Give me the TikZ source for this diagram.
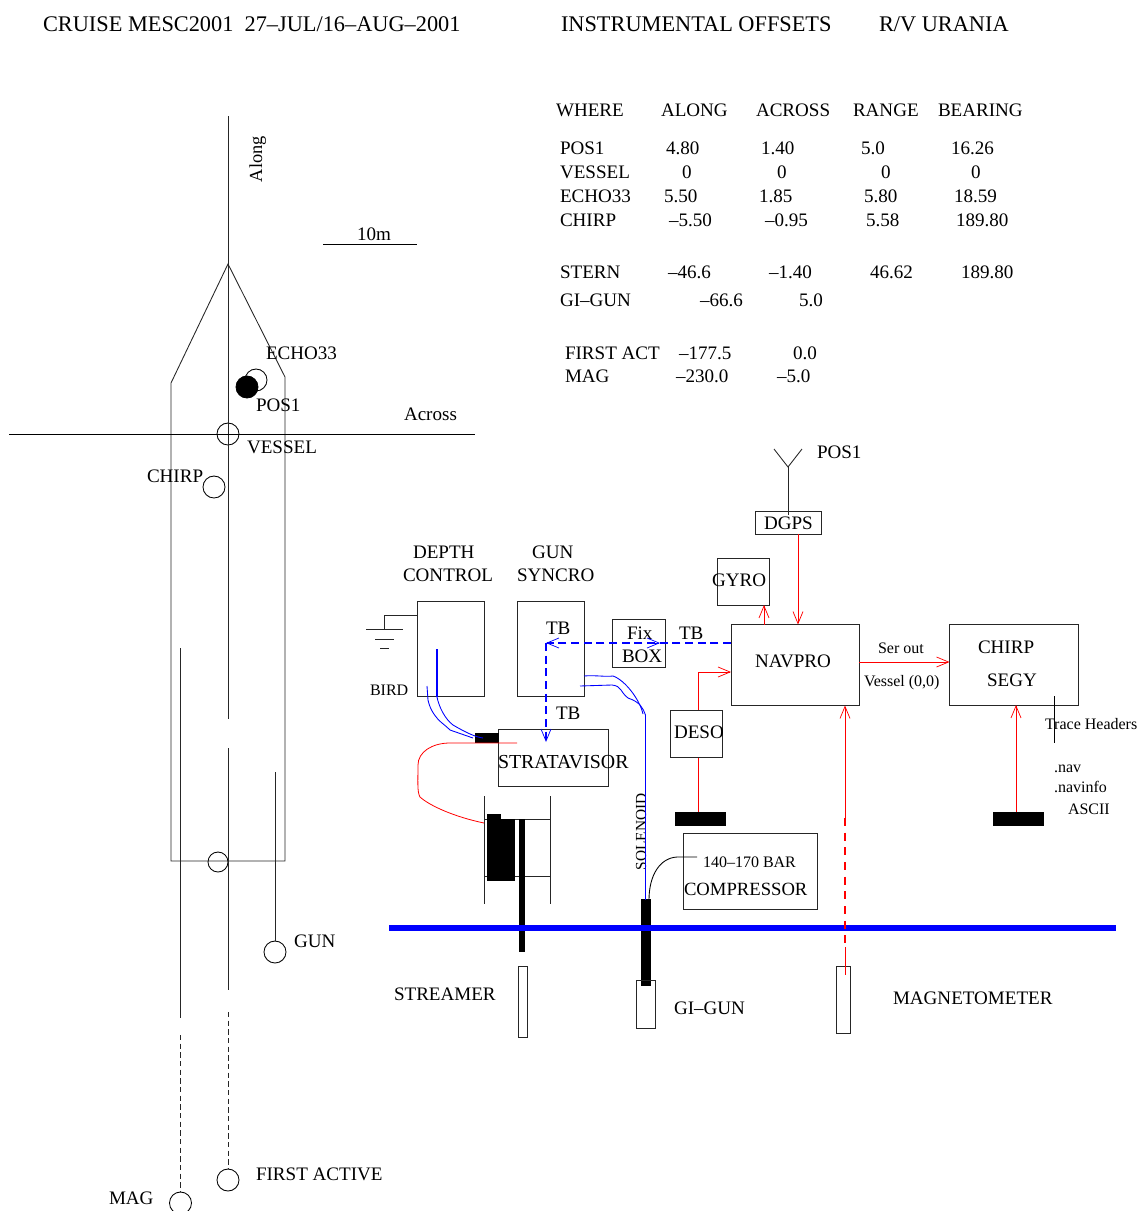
\documentclass[tikz,border=0pt]{standalone}
\usepackage{fontspec}
\setmainfont{Liberation Serif}
\usetikzlibrary{arrows.meta,calc}
\tikzset{
  txt/.style={anchor=base west,inner sep=0pt,outer sep=0pt,font=\fontsize{14.3}{17}\selectfont},
  ttl/.style={txt,font=\fontsize{16.75}{20}\selectfont},
  small/.style={anchor=base west,inner sep=0pt,outer sep=0pt,font=\fontsize{12}{14}\selectfont},
  line/.style={draw=black!85,line width=0.65pt},
  redl/.style={draw=red,line width=0.65pt},
  bluel/.style={draw=blue,line width=0.65pt},
  barb/.style={-{Straight Barb[length=9pt,width=7.5pt,line width=0.55pt]}},
  bx/.style={draw=black!85,line width=0.65pt,inner sep=0pt,outer sep=0pt},
  barf/.style={fill=black,draw=none,inner sep=0pt,outer sep=0pt},
  circ/.style={circle,draw=black,line width=0.65pt,inner sep=0pt,outer sep=0pt,minimum size=16.5pt},
  dashb/.style={dash pattern=on 6pt off 3.5pt},
}
\newcommand{\TT}[4]{\node[txt] (#1) at (#2,#3) {#4};}
\newcommand{\TS}[4]{\node[small] (#1) at (#2,#3) {#4};}
\newcommand{\BX}[6][bx]{\node[#1,minimum width={(#5-#3)*0.75pt},minimum height={(#6-#4)*0.75pt}] (#2) at ({(#3+#5)/2},{(#4+#6)/2}) {};}
\begin{document}
\begin{tikzpicture}[x=0.75pt,y=-0.75pt]
\useasboundingbox (0,0) rectangle (1138,1211);
% titles
\node[ttl] (ttlA) at (43,31) {CRUISE MESC2001\ \ 27–JUL/16–AUG–2001};
\node[ttl] (ttlB) at (561,31) {INSTRUMENTAL OFFSETS};
\node[ttl] (ttlC) at (879,31) {R/V URANIA};
% table
\TT{h1}{556}{116}{WHERE}\TT{h2}{661}{116}{ALONG}\TT{h3}{756}{116}{ACROSS}\TT{h4}{853}{116}{RANGE}\TT{h5}{938}{116}{BEARING}
\TT{a1}{560}{154}{POS1}\TT{a2}{666}{154}{4.80}\TT{a3}{761}{154}{1.40}\TT{a4}{861}{154}{5.0}\TT{a5}{951}{154}{16.26}
\TT{b1}{560}{178}{VESSEL}\TT{b2}{682}{178}{0}\TT{b3}{777}{178}{0}\TT{b4}{881}{178}{0}\TT{b5}{971}{178}{0}
\TT{c1}{560}{202}{ECHO33}\TT{c2}{664}{202}{5.50}\TT{c3}{759}{202}{1.85}\TT{c4}{864}{202}{5.80}\TT{c5}{954}{202}{18.59}
\TT{d1}{560}{226}{CHIRP}\TT{d2}{669}{226}{–5.50}\TT{d3}{765}{226}{–0.95}\TT{d4}{866}{226}{5.58}\TT{d5}{956}{226}{189.80}
\TT{e1}{560}{278}{STERN}\TT{e2}{668}{278}{–46.6}\TT{e3}{769}{278}{–1.40}\TT{e4}{870}{278}{46.62}\TT{e5}{961}{278}{189.80}
\TT{f1}{560}{306}{GI–GUN}\TT{f2}{700}{306}{–66.6}\TT{f3}{799}{306}{5.0}
\TT{g1}{565}{359}{FIRST ACT}\TT{g2}{679}{359}{–177.5}\TT{g3}{793}{359}{0.0}
\TT{k1}{565}{382}{MAG}\TT{k2}{676}{382}{–230.0}\TT{k3}{777}{382}{–5.0}
% ship
\draw[line] (171,861) -- (171,383) -- (228,264) -- (285,377) -- (285,861) -- cycle;
\node[circ] (cvessel) at (228,434) {};
\node[circ] (cecho) at (256,380) {};
\node[circ,fill=black] (cpos) at (247,387) {};
\node[circ] (cchirp) at (214,487) {};
\node[circ,minimum size=15pt] (cstern) at (218,862) {};
\node[circ] (cfirst) at (228,1180) {};
\node[circ] (cmag) at (180.5,1203) {};
\node[circ] (cgun) at (275,952) {};
\coordinate (alongtop) at (228,116);
\coordinate (alongend) at (228,719);
\coordinate (mid1) at (228,748);
\coordinate (mid2) at (228,990);
\coordinate (mid3) at (228,1012);
\draw[line] (alongtop) -- (alongend);
\draw[line] (mid1) -- (mid2);
\draw[line,dash pattern=on 4pt off 2.5pt] (mid3) -- (cfirst.north);
\coordinate (acrossL) at (9,434);
\coordinate (acrossR) at (475,434);
\draw[draw=black,line width=0.65pt] (acrossL) -- (acrossR);
\coordinate (magA) at (180.5,648);
\coordinate (magB) at (180.5,1018);
\coordinate (magC) at (180.5,1035);
\draw[line] (magA) -- (magB);
\draw[line,dash pattern=on 4pt off 2.5pt] (magC) -- (cmag.north);
\coordinate (gunA) at (275,772);
\draw[line] (gunA) -- (cgun.north);
\coordinate (scaleL) at (323,244);
\coordinate (scaleR) at (417,244);
\draw[draw=black,line width=0.65pt] (scaleL) -- (scaleR);
\node[txt,font=\fontsize{13.8}{17}\selectfont,rotate=90] (lalong) at (262,182) {Along};
\TT{l10m}{357}{240}{10m}
\TT{lecho}{266}{359}{ECHO33}
\TT{lpos}{256}{411}{POS1}
\TT{lves}{247}{453}{VESSEL}
\TT{lchirp}{147}{482}{CHIRP}
\TT{lacross}{404}{420}{Across}
\TT{lgun}{294}{947}{GUN}
\TT{lfirst}{256}{1180}{FIRST ACTIVE}
\TT{lmag}{109}{1204}{MAG}
% sea surface
\coordinate (seaL) at (389,928);
\coordinate (seaR) at (1116,928);
% bars
\BX[barf]{streamerbar}{519}{819}{525}{952}
\BX[barf]{gibar}{641}{899}{651}{986}
\draw[draw=blue,line width=4.5pt] (seaL) -- (seaR);
% boxes
\BX{dgps}{755}{511}{821}{534}
\BX{gyro}{717}{558}{769}{605}
\BX{navpro}{731}{624.5}{859}{705.5}
\BX{segy}{949.5}{624}{1078}{705}
\BX{deso}{670}{710}{722}{757.5}
\BX{fixbox}{612.5}{619.5}{665}{667}
\BX{depth}{417.5}{601}{484.5}{696}
\BX{syncro}{517.5}{601}{584}{696}
\BX{strata}{498.5}{729}{608}{786}
\BX{comp}{683.5}{833.5}{817}{909}
\BX{streamer}{518}{966}{527}{1037}
\BX{gigun}{636}{980}{655}{1028}
\BX{magbox}{836}{966}{850}{1033}
\BX[barf]{chirpbar}{993}{812}{1044}{826}
\BX[barf]{desobar}{674.5}{812}{726}{826}
\BX[barf]{birdbar}{474.5}{733}{499}{743}
\BX{drum}{484.5}{819}{550.5}{876}
\BX[barf]{drumA}{487}{814}{501}{881}
\BX[barf]{drumB}{501}{819}{515}{881}
\BX[barf]{streamerbar2}{519}{819}{525}{880}
\coordinate (drumLt) at (484.5,796);\coordinate (drumLb) at (484.5,904);
\coordinate (drumRt) at (550.5,796);\coordinate (drumRb) at (550.5,904);
\draw[line] (drumLt) -- (drumLb);
\draw[line] (drumRt) -- (drumRb);
% box labels
\TT{tdgps}{764}{529}{DGPS}
\TT{tgyro}{712}{586}{GYRO}
\TT{tnav}{755}{667}{NAVPRO}
\TT{tchirp}{978}{653}{CHIRP}
\TT{tsegy}{987}{686}{SEGY}
\TT{tdeso}{674}{738}{DESO}
\TT{tfix}{627}{639}{Fix}
\TT{tbox}{622}{662}{BOX}
\TT{tdepth}{413}{558}{DEPTH}
\TT{tcontrol}{403}{581}{CONTROL}
\TT{tgunl}{532}{558}{GUN}
\TT{tsync}{517}{581}{SYNCRO}
\node[txt,font=\fontsize{14.9}{17}\selectfont] (tstrata) at (498,768) {STRATAVISOR};
\node[txt,font=\fontsize{14}{17}\selectfont] (tcomp) at (684,895) {COMPRESSOR};
\TS{tbar}{703}{867}{140–170 BAR}
\TS{tbird}{370}{695}{BIRD}
\TT{ttb1}{546}{634}{TB}
\TT{ttb2}{679}{639}{TB}
\TT{ttb3}{556}{719}{TB}
\TT{tpos}{817}{458}{POS1}
\TS{tser}{878}{653}{Ser out}
\TS{tves}{864}{686}{Vessel (0,0)}
\TS{ttrace}{1045}{729}{Trace Headers}
\TS{tnavf}{1054}{772}{.nav}
\TS{tinfo}{1054}{792}{.navinfo}
\TS{tascii}{1068}{814}{ASCII}
\TT{tstreamer}{394}{1000}{STREAMER}
\TT{tgi}{674}{1014}{GI–GUN}
\TT{tmagn}{893}{1004}{MAGNETOMETER}
\node[small,font=\fontsize{11.5}{14}\selectfont,rotate=90] (tsol) at (646,870) {SOLENOID};
% antenna
\coordinate (antJ) at (788,467);
\coordinate (antL) at (774,449);
\coordinate (antR) at (802,449);
\coordinate (antS) at (788,515);
\draw[line] (antL) -- (antJ) -- (antR);
\draw[line] (antJ) -- (antS);
% ground
\coordinate (gnd) at (384.5,629);
\draw[line] (depth.west |- 0,615) -- (384.5,615) -- (gnd);
\coordinate (g1L) at (366,629);\coordinate (g1R) at (403,629);
\coordinate (g2L) at (375,639);\coordinate (g2R) at (394,639);
\coordinate (g3L) at (380,648);\coordinate (g3R) at (389,648);
\draw[line] (g1L) -- (g1R);
\draw[line] (g2L) -- (g2R);
\draw[line] (g3L) -- (g3R);
% red connectors
\draw[redl,barb] (798,0 |- dgps.south) -- (798,0 |- navpro.north);
\draw[redl,barb] (764,0 |- navpro.north) -- (764,0 |- gyro.south);
\draw[redl,barb] (navpro.east |- 0,662) -- (segy.west |- 0,662);
\draw[redl,barb] (698,0 |- deso.north) -- (698,672) -- (navpro.west |- 0,672);
\draw[redl] (698,0 |- deso.south) -- (698,0 |- desobar.north);
\draw[redl,barb] (1016,0 |- chirpbar.north) -- (1016,0 |- segy.south);
\coordinate (magD) at (845,818);
\coordinate (magE) at (845,947);
\coordinate (magF) at (845,975);
\draw[redl,barb] (magD) -- (845,0 |- navpro.south);
\draw[draw=red,line width=0.85pt,dash pattern=on 6pt off 5pt] (magD) -- (magE);
\draw[redl] (magE) -- (magF);
\draw[draw=red,line width=0.6pt] (484,823) .. controls (455,817) and (430,806) .. (420,797)
  .. controls (417,792) and (418,780) .. (418,765)
  .. controls (418,752) and (432,743) .. (450,743) -- (517,743);
% black hose
\draw[draw=black,line width=0.65pt] (697,857) -- (677,857) .. controls (660,858) and (649,875) .. (649,900);
% trace line
\coordinate (trT) at (1054,696);\coordinate (trB) at (1054,743);
\draw[draw=black,line width=0.65pt] (trT) -- (trB);
% blue connectors
\coordinate (tbJ) at (546,643);
\draw[bluel,line width=0.8pt,dashb,barb] (navpro.west |- 0,643) -- (tbJ);
\draw[bluel,barb] (650,643) -- (660,643);
\draw[bluel,line width=0.8pt,dashb,barb] (tbJ) -- (546,742);
\draw[bluel,line width=0.8pt] (437,649) -- (437,697);
\draw[bluel] (437,697) .. controls (439,707) and (445,719) .. (453,725) .. controls (465,732) and (475,737) .. (483,738);
\draw[bluel] (427,686) -- (428,700) .. controls (430,710) and (436,718) .. (442,723) .. controls (447,727) and (450,730) .. (450,730) -- (473,738);
\draw[bluel] (584,676) .. controls (595,675) and (605,677) .. (613,676) .. controls (625,680) and (640,700) .. (643,714);
\draw[bluel] (580,686) -- (612,685) .. controls (622,686) and (620,692) .. (628,698) .. controls (640,702) and (643,708) .. (645.5,715);
\draw[bluel,line width=0.85pt] (645.5,715) -- (645.5,900);
\end{tikzpicture}
\end{document}
